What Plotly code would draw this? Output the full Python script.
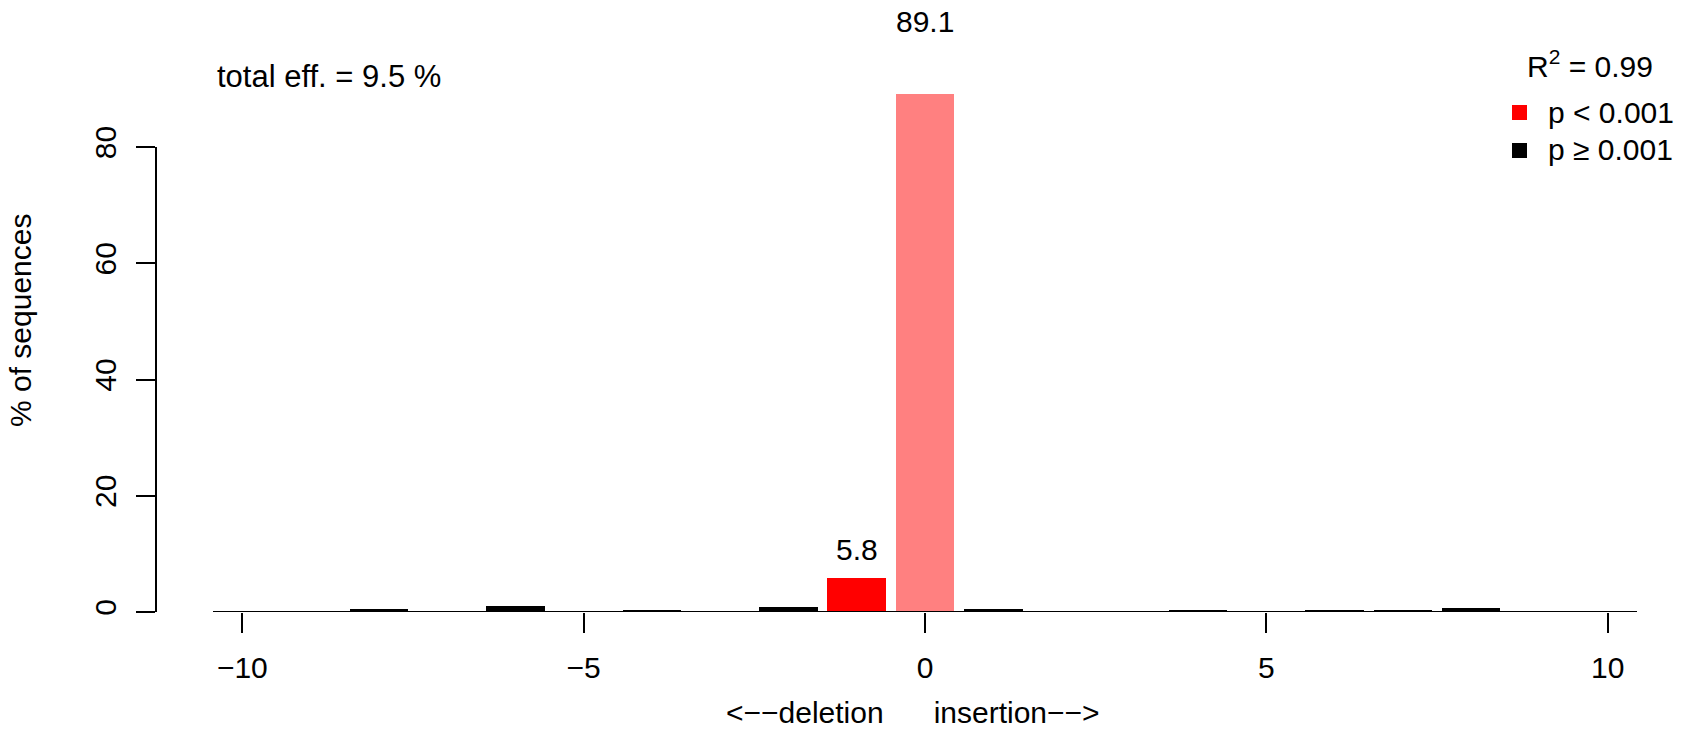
import plotly.graph_objects as go

# ---- data ----
shift = [-8, -6, -4, -2, -1, 0, 1, 4, 6, 7, 8]
pct = [0.55, 1.0, 0.25, 0.9, 5.8, 89.1, 0.45, 0.35, 0.2, 0.2, 0.75]
group = ["ns", "ns", "ns", "ns", "sig", "wt", "ns", "ns", "ns", "ns", "ns"]
label_shift = [-1, 0]
label_vals = [5.8, 89.1]
label_yshift = [29, 73]
x_ticks = [-10, -5, 0, 5, 10]
x_ticktext = ["\u221210", "\u22125", "0", "5", "10"]
y_ticks = [0, 20, 40, 60, 80]
total_eff = "total eff. = 9.5 %"
r2_text = "R<sup>2</sup> = 0.99"
x_title = "<\u2212\u2212deletion" + "\u00a0" * 6 + "insertion\u2212\u2212>"

colors = {"ns": "#000000", "sig": "#FF0000", "wt": "#FF8080"}
FONT = "Liberation Sans, Arial, sans-serif"
FS = 30

W, H = 1688, 729
ML, MR, MT, MB = 156, 51, 89, 117
PW, PH = W - ML - MR, H - MT - MB


def px(x):
    return (x - ML) / PW


def py(y):
    return (H - MB - y) / PH


fig = go.Figure()
fig.add_trace(go.Bar(
    x=shift, y=pct, width=0.857,
    marker=dict(color=[colors[g] for g in group], line=dict(width=0)),
    showlegend=False, hoverinfo="x+y",
))

shapes = []
# baseline across plot region
shapes.append(dict(type="line", xref="x", yref="y", x0=-10.43, x1=10.43, y0=0, y1=0,
                   line=dict(color="black", width=2)))
# y axis line 0..80
shapes.append(dict(type="line", xref="paper", yref="y", x0=0, x1=0, y0=0, y1=80,
                   line=dict(color="black", width=2)))
# legend squares
for cy, col in [(112.5, colors["sig"]), (150.5, colors["ns"])]:
    shapes.append(dict(type="rect", xref="paper", yref="paper",
                       x0=px(1512), x1=px(1527), y0=py(cy + 7.5), y1=py(cy - 7.5),
                       fillcolor=col, line=dict(width=0)))

annotations = []
for xs, v, ys in zip(label_shift, label_vals, label_yshift):
    annotations.append(dict(x=xs, y=v, xref="x", yref="y", text=f"{v:.1f}", showarrow=False,
                            yshift=ys, yanchor="middle", xanchor="center",
                            font=dict(size=FS, color="black", family=FONT)))
annotations.append(dict(x=px(215), y=py(76), xref="paper", yref="paper", text=total_eff,
                        showarrow=False, xanchor="left", yanchor="middle",
                        font=dict(size=31, color="black", family=FONT)))
annotations.append(dict(x=px(1655), y=py(64), xref="paper", yref="paper", text=r2_text,
                        showarrow=False, xanchor="right", yanchor="middle",
                        font=dict(size=FS, color="black", family=FONT)))
annotations.append(dict(x=px(1546), y=py(112), xref="paper", yref="paper", text="p < 0.001",
                        showarrow=False, xanchor="left", yanchor="middle",
                        font=dict(size=FS, color="black", family=FONT)))
annotations.append(dict(x=px(1546), y=py(150), xref="paper", yref="paper", text="p \u2265 0.001",
                        showarrow=False, xanchor="left", yanchor="middle",
                        font=dict(size=FS, color="black", family=FONT)))
annotations.append(dict(x=px(20), y=py(321), xref="paper", yref="paper", text="% of sequences",
                        showarrow=False, textangle=-90, xanchor="center", yanchor="middle",
                        font=dict(size=FS, color="black", family=FONT)))
annotations.append(dict(x=px(913), y=py(712), xref="paper", yref="paper",
                        text=x_title,
                        showarrow=False, xanchor="center", yanchor="middle",
                        font=dict(size=FS, color="black", family=FONT)))

fig.update_layout(
    width=W, height=H,
    margin=dict(l=ML, r=MR, t=MT, b=MB, pad=0),
    plot_bgcolor="white", paper_bgcolor="white",
    font=dict(family=FONT, size=FS, color="black"),
    shapes=shapes, annotations=annotations,
    bargap=0,
    xaxis=dict(range=[-11.265, 10.43], tickvals=x_ticks, ticktext=x_ticktext,
               ticks="outside", ticklen=20, tickwidth=2, tickcolor="black",
               showline=False, showgrid=False, zeroline=False,
               tickfont=dict(size=FS, family=FONT, color="black"), ticklabelstandoff=9),
    yaxis=dict(range=[0, 90], tickvals=y_ticks, ticks="outside", ticklen=19, tickwidth=2,
               tickcolor="black", showline=False, showgrid=False, zeroline=False,
               tickangle=-90, tickfont=dict(size=FS, family=FONT, color="black"),
               ticklabelstandoff=8),
)

fig.write_html("out.html", config={"displayModeBar": False},
               post_script="document.body.style.margin='0';document.body.style.padding='0';")
